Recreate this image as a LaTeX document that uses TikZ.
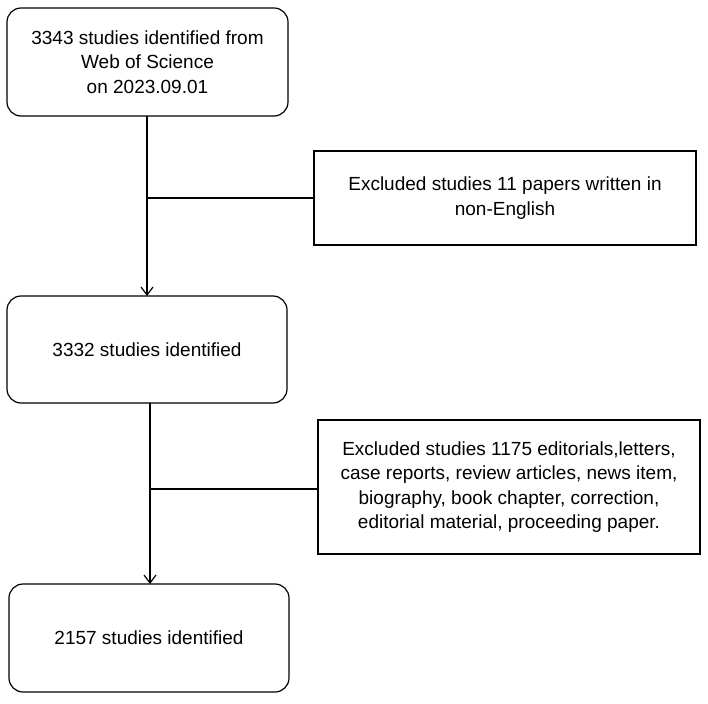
\documentclass[tikz,border=0pt]{standalone}
\usetikzlibrary{arrows.meta}
\usepackage{fontspec}
\setmainfont{Liberation Sans}
\begin{document}
\begin{tikzpicture}[x=1pt,y=-1pt,
  rbox/.style={draw,line width=1.2pt,rounded corners=14pt},
  sbox/.style={draw,line width=1.2pt},
  txt/.style={align=center,font=\fontsize{19}{24.5}\selectfont},
  conn/.style={line width=1.2pt}, arr/.style={conn,-{Straight Barb[length=8pt,width=12pt]}}]
\useasboundingbox (0,0) rectangle (708,703);
\draw[rbox] (7,8) rectangle (288,116);
\node[txt] (a) at (147.5,62) {3343 studies identified from\\Web of Science\\on 2023.09.01};
\draw[sbox] (314,151) rectangle (696,245);
\node[txt] (e1) at (505,198) {Excluded studies 11 papers written in\\non-English};
\draw[rbox] (7,296) rectangle (287,403);
\node[txt] (b) at (147,350) {3332 studies identified};
\draw[sbox] (318,420) rectangle (700,554);
\node[txt] (e2) at (509,487) {Excluded studies 1175 editorials,letters,\\case reports, review articles, news item,\\biography, book chapter, correction,\\editorial material, proceeding paper.};
\draw[rbox] (9,584) rectangle (289,692);
\node[txt] (c) at (149,638) {2157 studies identified};
\coordinate (a1) at (147,116); \coordinate (b0) at (147,296);
\coordinate (b1) at (150,403); \coordinate (c0) at (150,584);
\draw[arr] (a1) -- (b0);
\draw[conn] (147,198) -- (314,198);
\draw[arr] (b1) -- (c0);
\draw[conn] (150,489) -- (318,489);
\end{tikzpicture}
\end{document}
